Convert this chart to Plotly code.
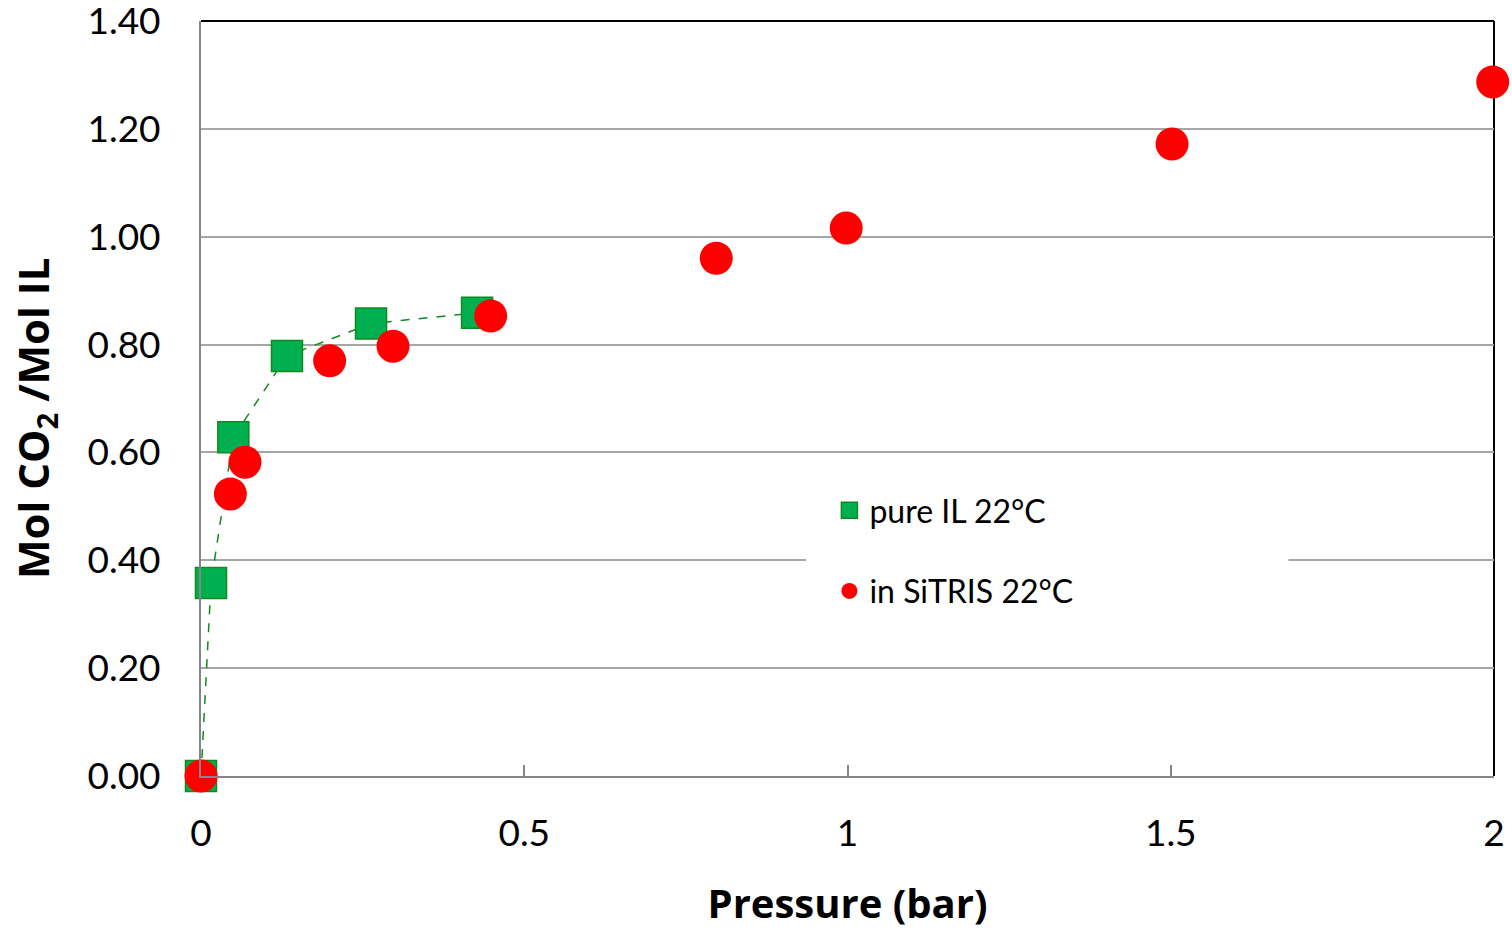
import plotly.graph_objects as go

# Data
pure_il_pressure = [0.0, 0.0155, 0.050, 0.133, 0.263, 0.427]
pure_il_uptake = [0.00, 0.358, 0.628, 0.779, 0.839, 0.859]

sitris_pressure = [0.0, 0.0454, 0.068, 0.199, 0.297, 0.448, 0.797, 0.998, 1.502, 1.998]
sitris_uptake = [0.00, 0.523, 0.582, 0.770, 0.797, 0.853, 0.960, 1.016, 1.172, 1.287]

x_ticks = [0, 0.5, 1, 1.5, 2]
x_tick_labels = ["0", "0.5", "1", "1.5", "2"]
y_ticks = [0.0, 0.2, 0.4, 0.6, 0.8, 1.0, 1.2, 1.4]
y_tick_labels = ["0.00", "0.20", "0.40", "0.60", "0.80", "1.00", "1.20", "1.40"]

FONT = "Lato"
TFONT = "Open Sans"
GRID = "#a6a6a6"
AXIS = "#868686"

fig = go.Figure()

fig.add_trace(go.Scatter(
    x=pure_il_pressure, y=pure_il_uptake, mode="lines",
    line=dict(color="#108a1e", width=1.5, dash="dash"),
    showlegend=False, hoverinfo="skip", cliponaxis=False,
))
fig.add_trace(go.Scatter(
    x=pure_il_pressure, y=pure_il_uptake, mode="markers",
    name="pure IL 22°C", legendgroup="a",
    marker=dict(symbol="square", size=31, color="#00b050",
                line=dict(color="#108a1e", width=1.5)),
    cliponaxis=False,
))
fig.add_trace(go.Scatter(
    x=sitris_pressure, y=sitris_uptake, mode="markers",
    name="in SiTRIS 22°C", legendgroup="b",
    marker=dict(symbol="circle", size=33, color="#ff0000", line=dict(width=0)),
    cliponaxis=False,
))

fig.update_layout(
    width=1512, height=930,
    margin=dict(l=201, r=18, t=21, b=154),
    paper_bgcolor="white", plot_bgcolor="white",
    font=dict(family=FONT, size=32, color="black"),
    showlegend=True,
    legend=dict(
        x=0.486, y=0.388, xanchor="left", yanchor="top",
        bgcolor="rgba(0,0,0,0)", borderwidth=0,
        font=dict(family=FONT, size=32, color="black"),
        tracegroupgap=36, traceorder="grouped",
        itemsizing="trace",
    ),
    xaxis=dict(
        range=[0, 2], tickmode="array", tickvals=x_ticks, ticktext=x_tick_labels,
        showgrid=False, zeroline=False, automargin=False,
        showline=True, linecolor=AXIS, linewidth=2,
        ticks="inside", ticklen=11, tickwidth=2, tickcolor=AXIS,
        ticklabelstandoff=24, ticklabeloverflow="allow",
        tickfont=dict(family=FONT, size=37, color="black"),
        title=dict(text="<b>Pressure (bar)</b>", font=dict(family=TFONT, size=40, color="black"),
                   standoff=38),
    ),
    yaxis=dict(
        range=[0, 1.4], tickmode="array", tickvals=y_ticks, ticktext=y_tick_labels,
        showgrid=True, gridcolor=GRID, gridwidth=2, zeroline=False, automargin=False,
        showline=True, linecolor=AXIS, linewidth=2,
        ticks="", ticklabelstandoff=31, ticklabeloverflow="allow",
        tickfont=dict(family=FONT, size=37, color="black"),
    ),
    annotations=[
        dict(text="<b>Mol CO<sub>2</sub> /Mol IL</b>", textangle=-90,
             xref="paper", yref="paper", x=-0.1284, y=0.474,
             xanchor="center", yanchor="middle", showarrow=False,
             font=dict(family=TFONT, size=42, color="black")),
    ],
    shapes=[
        dict(type="rect", xref="x", yref="y", x0=0.936, x1=1.682, y0=0.28, y1=0.558,
             fillcolor="white", line=dict(width=0), layer="between"),
        dict(type="line", xref="paper", yref="paper", x0=0, x1=1, y0=1, y1=1,
             line=dict(color="black", width=2), layer="above"),
        dict(type="line", xref="paper", yref="paper", x0=1, x1=1, y0=0, y1=1,
             line=dict(color="black", width=2), layer="below"),
    ],
)

fig.write_html("out.html")
